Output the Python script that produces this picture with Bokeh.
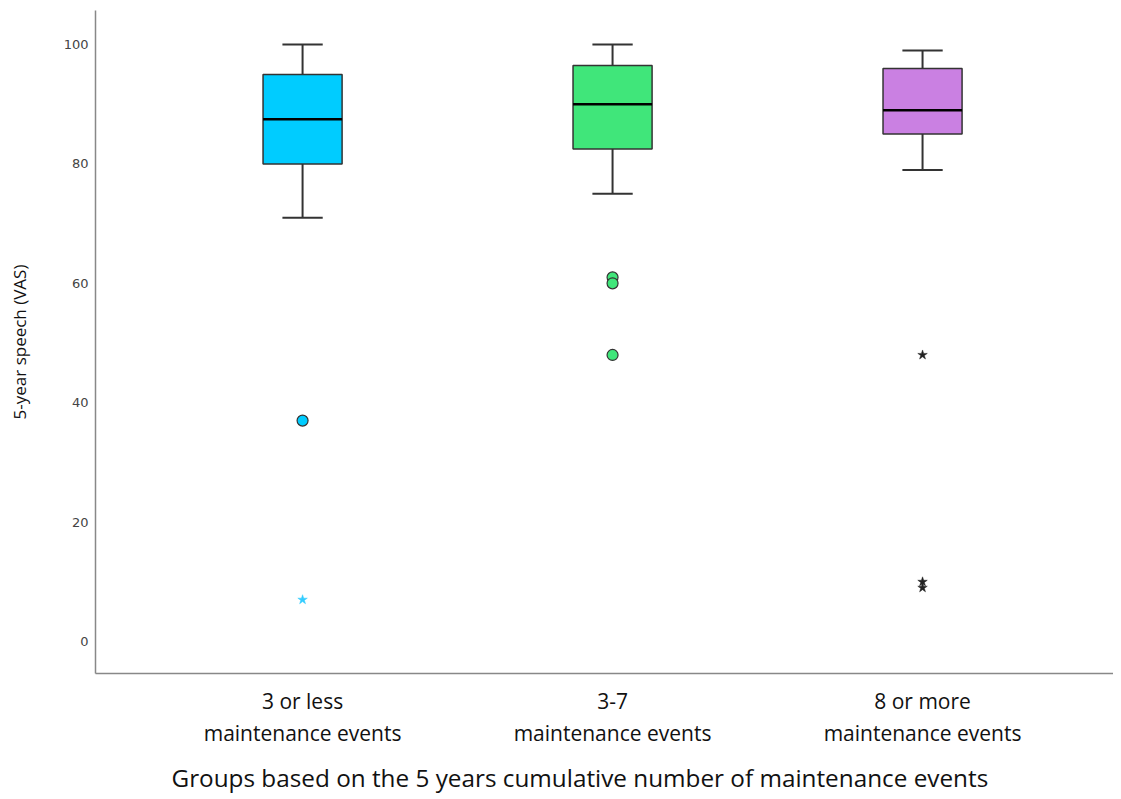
from bokeh.plotting import figure
from bokeh.models import Range1d, FixedTicker, ColumnDataSource, Title
from bokeh.embed import file_html
from bokeh.resources import INLINE

groups = ["3 or less\nmaintenance events", "3-7\nmaintenance events", "8 or more\nmaintenance events"]
colors = ["#00CCFF", "#40E67A", "#CA80E2"]
q1 = [80, 82.5, 85]
median = [87.5, 90, 89]
q3 = [95, 96.5, 96]
lower = [71, 75, 79]
upper = [100, 100, 99]

# mild outliers (circles): group index, value
out_group = [0, 1, 1, 1]
out_value = [37, 61, 60, 48]
# extreme outliers (stars)
ext_group = [0, 2, 2, 2]
ext_value = [7, 48, 10, 9]
ext_colors = ["#33CCFF", "#222222", "#222222", "#222222"]

xs = list(range(len(groups)))
box_w = 0.255
cap_w = 0.13

p = figure(frame_width=1018, frame_height=663, output_backend="svg", toolbar_location=None,
           x_range=Range1d(-0.668, 2.616), y_range=Range1d(-5.36, 105.7),
           min_border_left=95, min_border_top=10, min_border_right=0, min_border_bottom=110)
p.outline_line_color = None
p.grid.grid_line_color = None
p.background_fill_color = "white"

src = ColumnDataSource(dict(x=xs, q1=q1, med=median, q3=q3, lo=lower, up=upper, c=colors,
                            cl=[x - cap_w / 2 for x in xs], cr=[x + cap_w / 2 for x in xs],
                            bl=[x - box_w / 2 for x in xs], br=[x + box_w / 2 for x in xs]))

# whiskers
p.segment(x0="x", y0="q3", x1="x", y1="up", source=src, line_color="#333333", line_width=2)
p.segment(x0="x", y0="q1", x1="x", y1="lo", source=src, line_color="#333333", line_width=2)
p.segment(x0="cl", y0="up", x1="cr", y1="up", source=src, line_color="#333333", line_width=2)
p.segment(x0="cl", y0="lo", x1="cr", y1="lo", source=src, line_color="#333333", line_width=2)
# boxes
p.vbar(x="x", width=box_w, bottom="q1", top="q3", source=src, fill_color="c",
       line_color="#333333", line_width=1.5)
# medians
p.segment(x0="bl", y0="med", x1="br", y1="med", source=src, line_color="black", line_width=2.5)

# outliers
p.scatter(x=out_group, y=out_value, marker="circle", size=11,
          fill_color=[colors[g] for g in out_group], line_color="#333333", line_width=1.2)
p.scatter(x=ext_group, y=ext_value, marker="star", size=10,
          fill_color=ext_colors, line_color=ext_colors, line_width=0.5)

p.xaxis.ticker = FixedTicker(ticks=xs)
p.xaxis.major_label_overrides = {i: g for i, g in zip(xs, groups)}
p.yaxis.ticker = FixedTicker(ticks=[0, 20, 40, 60, 80, 100])

for ax in (p.xaxis[0], p.yaxis[0]):
    ax.axis_line_color = "#888888"
    ax.axis_line_width = 1.5
    ax.major_tick_line_color = None
    ax.minor_tick_line_color = None
    ax.major_tick_out = 0
    ax.major_tick_in = 0
    ax.minor_tick_out = 0

p.yaxis.major_label_text_font = "DejaVu Sans"
p.yaxis.major_label_text_font_size = "13px"
p.yaxis.major_label_text_color = "#444444"
p.yaxis.major_label_standoff = 7
p.yaxis.axis_label = "5-year speech (VAS)"
p.yaxis.axis_label_text_font = "Open Sans"
p.yaxis.axis_label_text_font_style = "normal"
p.yaxis.axis_label_text_font_size = "17px"
p.yaxis.axis_label_text_color = "#111111"
p.yaxis.axis_label_standoff = 30

p.xaxis.major_label_text_font = "Open Sans"
p.xaxis.major_label_text_font_size = "21px"
p.xaxis.major_label_text_color = "#111111"
p.xaxis.major_label_text_line_height = 1.15
p.xaxis.major_label_standoff = 13

xtitle = Title(text="Groups based on the 5 years cumulative number of maintenance events",
               align="left", offset=76, text_font="Open Sans", text_font_style="normal",
               text_font_size="24.3px", text_color="#111111", standoff=19)
p.add_layout(xtitle, "below")

open("out.html", "w").write(file_html(p, INLINE))
